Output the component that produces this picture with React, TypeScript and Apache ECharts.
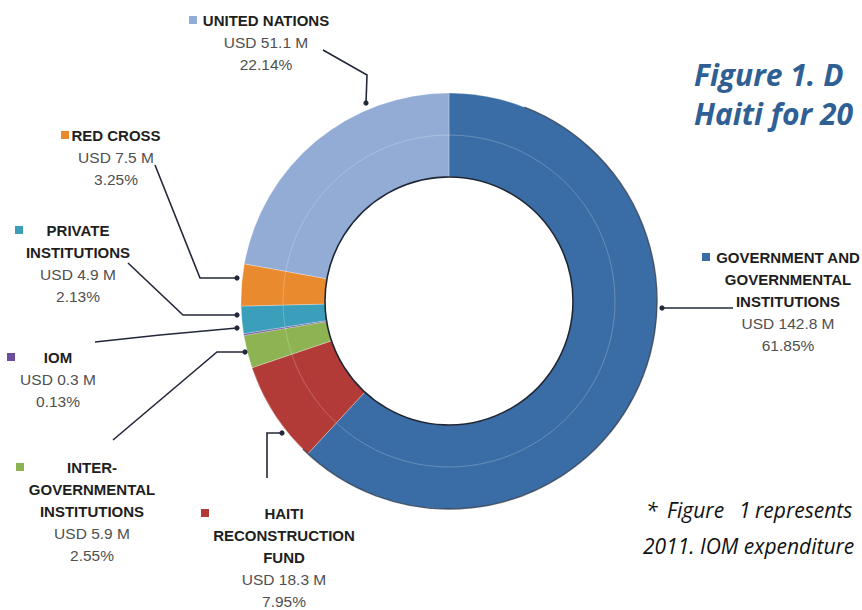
import React, { useEffect, useRef } from "react";
import * as echarts from "echarts";

// ---- data ----
const categories = [
  "GOVERNMENT AND\nGOVERNMENTAL\nINSTITUTIONS",
  "HAITI\nRECONSTRUCTION\nFUND",
  "INTER-\nGOVERNMENTAL\nINSTITUTIONS",
  "IOM",
  "PRIVATE\nINSTITUTIONS",
  "RED CROSS",
  "UNITED NATIONS",
];
const usdMillions = [142.8, 18.3, 5.9, 0.3, 4.9, 7.5, 51.1];
const percents = ["61.85", "7.95", "2.55", "0.13", "2.13", "3.25", "22.14"];
const colors = ["#3a6da5", "#b23b37", "#8db352", "#6b4d9b", "#3b9fbb", "#e98a2f", "#93acd6"];
const titleLines = ["Figure 1. D", "Haiti for 20"];
const noteLine1 = ["*", "Figure", "1", "represents"];
const noteLine2 = "2011. IOM expenditure";

// ---- layout (positions only) ----
const CX = 449;
const CY = 301;
const labelPos = [
  { x: 788, y: 246 },
  { x: 284, y: 502 },
  { x: 92, y: 456 },
  { x: 58, y: 346 },
  { x: 78, y: 219 },
  { x: 116, y: 124 },
  { x: 266, y: 9 },
];
const linePts = [
  [[733, 308], [700, 308], [662, 308]],
  [[267, 478], [267, 433], [282, 433]],
  [[113, 440], [217, 352], [245, 352]],
  [[95, 342], [160, 335], [237, 328]],
  [[128, 263], [183, 315], [237, 315]],
  [[155, 165], [200, 278], [237, 278]],
  [[323, 50], [367, 75], [366, 103]],
];
const markerPos = [
  [702, 253],
  [201, 509],
  [16, 463],
  [7, 353],
  [15, 226],
  [61, 131],
  [189, 16],
];
const noteWordX = [646, 667, 739, 755];

export default function App() {
  const ref = useRef<HTMLDivElement>(null);
  useEffect(() => {
    if (!ref.current) return;
    const chart = echarts.init(ref.current, null, { renderer: "svg" });
    const font = "Liberation Sans, Arial, sans-serif";
    const noteFont = "italic 21px 'Open Sans', 'Noto Sans', sans-serif";
    const graphics: any[] = [];
    // decorative ring outlines
    graphics.push({
      type: "circle",
      z: 10,
      silent: true,
      shape: { cx: CX, cy: CY, r: 166 },
      style: { fill: "none", stroke: "rgba(255,255,255,0.22)", lineWidth: 1 },
    });
    graphics.push({
      type: "circle",
      z: 10,
      silent: true,
      shape: { cx: CX, cy: CY, r: 124 },
      style: { fill: "none", stroke: "#1e2633", lineWidth: 1.6 },
    });
    graphics.push({
      type: "arc",
      z: 10,
      silent: true,
      shape: { cx: CX, cy: CY, r: 208, startAngle: -1.2, endAngle: 2.35, clockwise: true },
      style: { fill: "none", stroke: "rgba(30,38,55,0.7)", lineWidth: 1.4 },
    });
    // legend markers and leader-line end dots
    markerPos.forEach((p, i) => {
      graphics.push({
        type: "rect",
        z: 10,
        shape: { x: p[0], y: p[1], width: 8, height: 8 },
        style: { fill: colors[i] },
      });
      const end = linePts[i][2];
      graphics.push({
        type: "circle",
        z: 10,
        shape: { cx: end[0], cy: end[1], r: 2.6 },
        style: { fill: "#23283a" },
      });
    });
    // footnote
    noteLine1.forEach((w, i) => {
      graphics.push({
        type: "text",
        z: 10,
        x: noteWordX[i],
        y: 510,
        style: { text: w, font: noteFont, fill: "#111", verticalAlign: "middle" },
      });
    });
    graphics.push({
      type: "text",
      z: 10,
      x: 643,
      y: 546,
      style: { text: noteLine2, font: noteFont, fill: "#111", verticalAlign: "middle" },
    });

    chart.setOption({
      animation: false,
      backgroundColor: "#ffffff",
      title: {
        text: titleLines.join("\n"),
        left: 694,
        top: 55,
        padding: 0,
        textStyle: {
          fontFamily: "'Open Sans', 'Noto Sans', sans-serif",
          fontSize: 30,
          fontWeight: "bold",
          fontStyle: "italic",
          color: "#2f5f93",
          lineHeight: 39,
        },
      },
      graphic: graphics,
      series: [
        {
          type: "pie",
          center: [CX, CY],
          radius: [124, 208],
          startAngle: 90,
          clockwise: true,
          avoidLabelOverlap: false,
          itemStyle: { borderColor: "rgba(255,255,255,0.45)", borderWidth: 0.6 },
          emphasis: { disabled: true },
          label: {
            show: true,
            position: "outside",
            formatter: (p: any) => {
              const i = p.dataIndex;
              const nameLines = categories[i]
                .split("\n")
                .map((l) => `{n|${l}}`)
                .join("\n");
              return `${nameLines}\n{v|USD ${usdMillions[i]} M}\n{v|${percents[i]}%}`;
            },
            rich: {
              n: { fontFamily: font, fontSize: 15, fontWeight: "bold", color: "#1e1e1e", lineHeight: 22 },
              v: { fontFamily: font, fontSize: 15.5, color: "#505050", lineHeight: 22 },
            },
            align: "center",
          },
          labelLine: {
            show: true,
            lineStyle: { color: "#23283a", width: 1.6 },
          },
          labelLayout: (params: any) => {
            const i = params.dataIndex;
            return {
              x: labelPos[i].x,
              y: labelPos[i].y,
              align: "center",
              verticalAlign: "top",
              labelLinePoints: linePts[i],
            };
          },
          data: categories.map((c, i) => ({
            name: c,
            value: usdMillions[i],
            itemStyle: { color: colors[i] },
          })),
        },
      ],
    });
    return () => chart.dispose();
  }, []);
  return (
    <div
      ref={ref}
      style={{ position: "absolute", left: 0, top: 0, width: 862, height: 610 }}
    />
  );
}
